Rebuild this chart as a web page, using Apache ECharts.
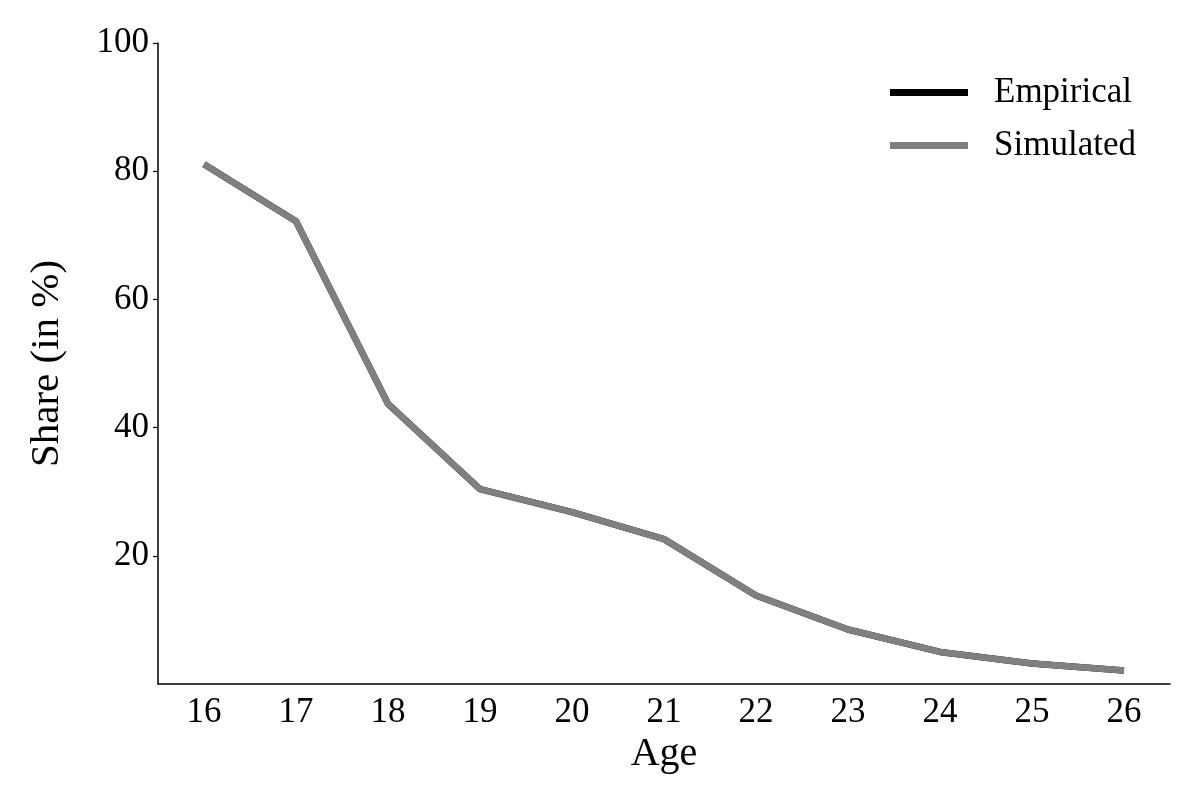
<!DOCTYPE html>
<html>
<head>
<meta charset="utf-8">
<script src="https://cdn.jsdelivr.net/npm/echarts@6/dist/echarts.min.js"></script>
<style>html,body{margin:0;padding:0;background:#fff}#c{width:1200px;height:800px}</style>
</head>
<body>
<div id="c"></div>
<script>
const ages = ['16','17','18','19','20','21','22','23','24','25','26'];
const empirical = [81.1, 72.2, 43.7, 30.4, 26.8, 22.6, 13.8, 8.5, 5.0, 3.2, 2.1];
const simulated = [81.1, 72.2, 43.7, 30.4, 26.8, 22.6, 13.8, 8.5, 5.0, 3.2, 2.1];
const yTicks = [20, 40, 60, 80, 100];

const FONT = '"Liberation Serif", "DejaVu Serif", serif';
const chart = echarts.init(document.getElementById('c'), null, {renderer: 'canvas'});
chart.setOption({
  backgroundColor: '#fff',
  animation: false,
  grid: {left: 158, right: 30, top: 43, bottom: 116, containLabel: false},
  legend: {
    orient: 'vertical',
    left: 885,
    top: 70,
    itemWidth: 78,
    itemHeight: 7,
    itemGap: 18,
    icon: 'rect',
    textStyle: {fontFamily: FONT, fontSize: 35, color: '#000', padding: [0, 0, 0, 21]},
    data: [
      {name: 'Empirical', itemStyle: {color: '#000'}},
      {name: 'Simulated', itemStyle: {color: '#808080'}}
    ]
  },
  xAxis: {
    type: 'category',
    data: ages,
    boundaryGap: true,
    name: 'Age',
    nameLocation: 'middle',
    nameGap: 50,
    nameTextStyle: {fontFamily: FONT, fontSize: 40, color: '#000'},
    axisLine: {lineStyle: {color: '#000', width: 1.5}},
    axisTick: {alignWithLabel: true, length: 5, lineStyle: {color: '#000', width: 1.2}},
    axisLabel: {fontFamily: FONT, fontSize: 35, color: '#000', margin: 11}
  },
  yAxis: {
    type: 'value',
    min: 0,
    max: 100,
    interval: 20,
    name: 'Share (in %)',
    nameLocation: 'middle',
    nameGap: 90,
    nameTextStyle: {fontFamily: FONT, fontSize: 41, color: '#000'},
    splitLine: {show: false},
    axisLine: {show: true, lineStyle: {color: '#000', width: 1.5}},
    axisTick: {show: true, length: 5, customValues: yTicks, lineStyle: {color: '#000', width: 1.2}},
    axisLabel: {fontFamily: FONT, fontSize: 35, color: '#000', margin: 9, customValues: yTicks}
  },
  series: [
    {name: 'Empirical', type: 'line', data: empirical, symbol: 'none',
      lineStyle: {color: '#000', width: 6.5}, itemStyle: {color: '#000'}, z: 2},
    {name: 'Simulated', type: 'line', data: simulated, symbol: 'none',
      lineStyle: {color: '#808080', width: 6.5}, itemStyle: {color: '#808080'}, z: 3}
  ]
});
</script>
</body>
</html>
